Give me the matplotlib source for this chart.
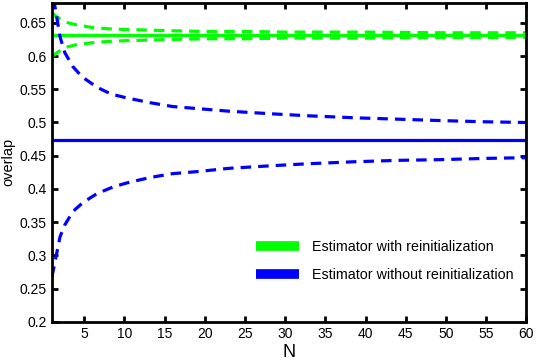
import numpy as np
import matplotlib
matplotlib.use("Agg")
import matplotlib.pyplot as plt
from matplotlib.lines import Line2D

plt.rcParams['font.family'] = ['Liberation Sans', 'DejaVu Sans']

# values
n_with = [1, 1.5, 2, 3, 4, 6, 8, 10, 13, 16, 20, 25, 30, 40, 50, 60]
with_upper = [0.665, 0.660, 0.656, 0.650, 0.647, 0.643, 0.641, 0.640, 0.639, 0.638, 0.637, 0.637, 0.636, 0.636, 0.635, 0.635]
with_lower = [0.599, 0.604, 0.608, 0.614, 0.617, 0.620, 0.622, 0.623, 0.624, 0.625, 0.626, 0.626, 0.627, 0.627, 0.628, 0.628]
with_mean = 0.631

n_without = [1, 1.5, 2, 2.6, 3.6, 4.8, 5.3, 6.6, 7.8, 8.6, 10.3, 13.1, 16, 19, 23, 28.4, 33, 38.8, 44, 49, 55, 60]
without_upper = [0.70, 0.665, 0.629, 0.605, 0.584, 0.568, 0.564, 0.553, 0.546, 0.542, 0.537, 0.530, 0.524, 0.521, 0.517, 0.513, 0.510, 0.507, 0.505, 0.503, 0.501, 0.500]
without_lower = [0.268, 0.298, 0.328, 0.346, 0.366, 0.379, 0.383, 0.393, 0.399, 0.403, 0.409, 0.417, 0.423, 0.426, 0.431, 0.435, 0.438, 0.441, 0.443, 0.444, 0.446, 0.447]
without_mean = 0.474

green = '#00ff00'
blue = '#0000ff'
dash = (0, (3.3, 2.2))

fig = plt.figure(figsize=(5.36, 3.6), dpi=100)
ax = fig.add_axes([0.097, 0.106, 0.885, 0.886])

ax.axhline(with_mean, color=green, lw=2.3)
ax.plot(n_with, with_upper, color=green, lw=2.3, ls=dash)
ax.plot(n_with, with_lower, color=green, lw=2.3, ls=dash)

ax.axhline(without_mean, color=blue, lw=2.3)
ax.plot(n_without, without_upper, color=blue, lw=2.3, ls=dash)
ax.plot(n_without, without_lower, color=blue, lw=2.3, ls=dash)

ax.set_xlim(1, 60)
ax.set_ylim(0.2, 0.68)
ax.set_xticks(np.arange(5, 61, 5))
yt = np.arange(0.2, 0.66, 0.05)
ax.set_yticks(yt)
ax.set_yticklabels(['%g' % round(v, 2) for v in yt])
ax.tick_params(direction='in', length=4, width=2, top=True, right=True, labelsize=10, pad=4)
for s in ax.spines.values():
    s.set_linewidth(2)

ax.set_xlabel('N', fontsize=13, labelpad=2)
ax.set_ylabel('overlap', fontsize=10.5, labelpad=3)

handles = [Line2D([], [], color=green, lw=7, solid_capstyle='butt'),
           Line2D([], [], color=blue, lw=7, solid_capstyle='butt')]
ax.legend(handles, ['Estimator with reinitialization', 'Estimator without reinitialization'],
          loc='lower right', frameon=False, fontsize=10.3, handlelength=3.0,
          labelspacing=0.95, handletextpad=0.9, bbox_to_anchor=(1.0, 0.085))

fig.savefig('out.png', dpi=100)
